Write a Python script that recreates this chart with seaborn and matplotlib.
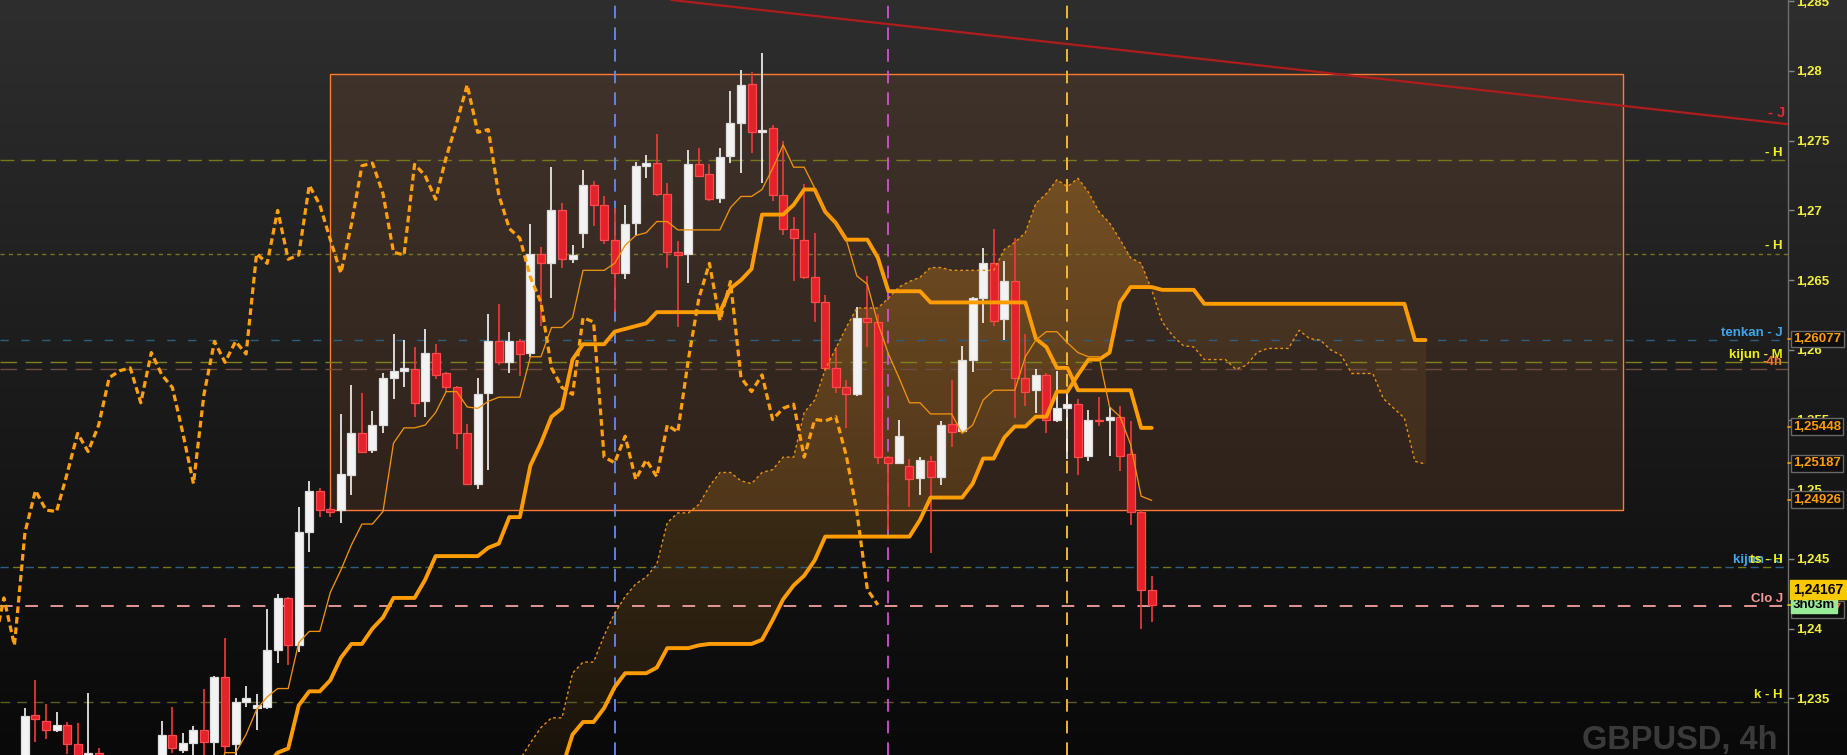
import numpy as np
import pandas as pd
import matplotlib
matplotlib.use("Agg")
import matplotlib.pyplot as plt
from matplotlib.patches import Rectangle, PathPatch
from matplotlib.path import Path
from matplotlib.ticker import FixedLocator, FuncFormatter
import seaborn as sns

nan = np.nan

# GBPUSD 4h candles, bar 0 is the first one on the left of the screen
opens = [1.2300, 1.2338, 1.2334, 1.2327, 1.2331, 1.2317, 1.2298, 1.2311, 1.2295, 1.2280,
         1.2262, 1.2270, 1.2284, 1.2298, 1.2324, 1.2313, 1.2318, 1.2327, 1.2319, 1.2365,
         1.2317, 1.2347, 1.2343, 1.2344, 1.2385, 1.2422, 1.2388, 1.2469, 1.2499, 1.2486,
         1.2485, 1.2510, 1.2540, 1.2528, 1.2546, 1.2580, 1.2585, 1.2586, 1.2563, 1.2598,
         1.2583, 1.2573, 1.2540, 1.2504, 1.2569, 1.2606, 1.2591, 1.2606, 1.2598, 1.2669,
         1.2662, 1.2700, 1.2665, 1.2684, 1.2718, 1.2704, 1.2679, 1.2655, 1.2691, 1.2732,
         1.2734, 1.2712, 1.2670, 1.2669, 1.2733, 1.2726, 1.2709, 1.2739, 1.2763, 1.2791,
         1.2756, 1.2759, 1.2711, 1.2687, 1.2679, 1.2652, 1.2634, 1.2587, 1.2573, 1.2568,
         1.2623, 1.2620, 1.2523, 1.2519, 1.2517, 1.2508, 1.2520, 1.2509, 1.2547, 1.2542,
         1.2593, 1.2637, 1.2662, 1.2622, 1.2649, 1.2580, 1.2571, 1.2582, 1.2550, 1.2558,
         1.2561, 1.2524, 1.2550, 1.2550, 1.2552, 1.2525, 1.2484, 1.2428]
highs = [1.2343, 1.2363, 1.2346, 1.2340, 1.2333, 1.2332, 1.2354, 1.2314, 1.2300, 1.2290,
         1.2280, 1.2288, 1.2300, 1.2334, 1.2344, 1.2325, 1.2330, 1.2357, 1.2366, 1.2393,
         1.2350, 1.2359, 1.2353, 1.2414, 1.2425, 1.2423, 1.2487, 1.2506, 1.2501, 1.2487,
         1.2554, 1.2575, 1.2569, 1.2556, 1.2583, 1.2611, 1.2607, 1.2602, 1.2615, 1.2604,
         1.2584, 1.2574, 1.2547, 1.2580, 1.2626, 1.2633, 1.2613, 1.2608, 1.2690, 1.2674,
         1.2731, 1.2705, 1.2675, 1.2729, 1.2721, 1.2710, 1.2702, 1.2704, 1.2735, 1.2740,
         1.2755, 1.2720, 1.2678, 1.2743, 1.2745, 1.2733, 1.2745, 1.2786, 1.2801, 1.2799,
         1.2813, 1.2761, 1.2750, 1.2695, 1.2719, 1.2684, 1.2639, 1.2602, 1.2578, 1.2631,
         1.2653, 1.2626, 1.2524, 1.2550, 1.2522, 1.2523, 1.2524, 1.2549, 1.2578, 1.2603,
         1.2638, 1.2673, 1.2687, 1.2664, 1.2680, 1.2611, 1.2586, 1.2583, 1.2585, 1.2571,
         1.2565, 1.2557, 1.2566, 1.2559, 1.2560, 1.2549, 1.2485, 1.2438]
lows = [1.2295, 1.2319, 1.2321, 1.2326, 1.2310, 1.2295, 1.2290, 1.2285, 1.2270, 1.2250,
        1.2240, 1.2245, 1.2233, 1.2255, 1.2311, 1.2311, 1.2290, 1.2290, 1.2293, 1.2311,
        1.2290, 1.2344, 1.2327, 1.2342, 1.2375, 1.2374, 1.2383, 1.2455, 1.2480, 1.2480,
        1.2476, 1.2496, 1.2526, 1.2526, 1.2540, 1.2565, 1.2573, 1.2552, 1.2552, 1.2579,
        1.2570, 1.2529, 1.2503, 1.2500, 1.2514, 1.2589, 1.2583, 1.2581, 1.2595, 1.2617,
        1.2637, 1.2659, 1.2662, 1.2673, 1.2689, 1.2676, 1.2627, 1.2651, 1.2682, 1.2723,
        1.2710, 1.2659, 1.2616, 1.2648, 1.2724, 1.2707, 1.2705, 1.2734, 1.2727, 1.2741,
        1.2720, 1.2707, 1.2682, 1.2649, 1.2651, 1.2620, 1.2585, 1.2569, 1.2544, 1.2567,
        1.2602, 1.2518, 1.2471, 1.2518, 1.2487, 1.2496, 1.2454, 1.2503, 1.2530, 1.2541,
        1.2584, 1.2619, 1.2617, 1.2607, 1.2551, 1.2560, 1.2555, 1.2540, 1.2548, 1.2522,
        1.2510, 1.2520, 1.2545, 1.2524, 1.2513, 1.2474, 1.2400, 1.2405]
closes = [1.2337, 1.2335, 1.2327, 1.2331, 1.2317, 1.2300, 1.2311, 1.2295, 1.2280, 1.2262,
          1.2270, 1.2284, 1.2298, 1.2324, 1.2314, 1.2318, 1.2327, 1.2319, 1.2365, 1.2316,
          1.2347, 1.2350, 1.2345, 1.2385, 1.2422, 1.2388, 1.2469, 1.2499, 1.2485, 1.2484,
          1.2511, 1.2540, 1.2527, 1.2546, 1.2580, 1.2585, 1.2587, 1.2562, 1.2598, 1.2582,
          1.2573, 1.2540, 1.2504, 1.2568, 1.2606, 1.2591, 1.2606, 1.2597, 1.2669, 1.2662,
          1.2700, 1.2665, 1.2668, 1.2718, 1.2704, 1.2679, 1.2655, 1.2690, 1.2732, 1.2734,
          1.2712, 1.2670, 1.2668, 1.2733, 1.2725, 1.2708, 1.2738, 1.2763, 1.2790, 1.2756,
          1.2758, 1.2711, 1.2687, 1.2680, 1.2652, 1.2634, 1.2587, 1.2573, 1.2568, 1.2623,
          1.2620, 1.2523, 1.2519, 1.2538, 1.2507, 1.2521, 1.2509, 1.2546, 1.2541, 1.2593,
          1.2637, 1.2662, 1.2621, 1.2649, 1.2580, 1.2570, 1.2582, 1.2550, 1.2558, 1.2561,
          1.2523, 1.2550, 1.2549, 1.2552, 1.2524, 1.2484, 1.2428, 1.2417]

# ichimoku lines, one value per bar (nan = not drawn)
tenkan = [nan] * 18 + [
    1.2290, 1.2311, 1.2311, 1.2324, 1.2342, 1.2351, 1.2357, 1.2357, 1.2390, 1.2398,
    1.2398, 1.2426, 1.2442, 1.2460, 1.2475, 1.2475, 1.2484, 1.2533, 1.2544, 1.2544,
    1.2546, 1.2555, 1.2570, 1.2570, 1.2559, 1.2558, 1.2563, 1.2566, 1.2566, 1.2566,
    1.2595, 1.2595, 1.2616, 1.2616, 1.2623, 1.2657, 1.2657, 1.2657, 1.2662, 1.2675,
    1.2682, 1.2684, 1.2692, 1.2692, 1.2686, 1.2686, 1.2686, 1.2686, 1.2686, 1.2702,
    1.2710, 1.2710, 1.2715, 1.2730, 1.2747, 1.2731, 1.2731, 1.2716, 1.2699, 1.2691,
    1.2679, 1.2653, 1.2647, 1.2619, 1.2597, 1.2580, 1.2562, 1.2562, 1.2554, 1.2554,
    1.2554, 1.2540, 1.2546, 1.2564, 1.2571, 1.2571, 1.2571, 1.2595, 1.2607, 1.2613,
    1.2613, 1.2605, 1.2598, 1.2595, 1.2595, 1.2559, 1.2552, 1.2532, 1.2495, 1.2492]
kijun = [nan] * 23 + [
    1.2302, 1.2311, 1.2314, 1.2345, 1.2355, 1.2355, 1.2363, 1.2379, 1.2389, 1.2389,
    1.2400, 1.2408, 1.2422, 1.2422, 1.2422, 1.2435, 1.2452, 1.2452, 1.2452, 1.2452,
    1.2452, 1.2458, 1.2461, 1.2480, 1.2480, 1.2517, 1.2533, 1.2552, 1.2558, 1.2593,
    1.2604, 1.2604, 1.2604, 1.2613, 1.2615, 1.2617, 1.2619, 1.2627, 1.2627, 1.2627,
    1.2627, 1.2627, 1.2627, 1.2627, 1.2644, 1.2650, 1.2658, 1.2697, 1.2697, 1.2697,
    1.2704, 1.2715, 1.2715, 1.2699, 1.2691, 1.2679, 1.2679, 1.2679, 1.2666, 1.2642,
    1.2642, 1.2642, 1.2642, 1.2634, 1.2634, 1.2634, 1.2634, 1.2634, 1.2634, 1.2634,
    1.2634, 1.2634, 1.2634, 1.2608, 1.2602, 1.2587, 1.2587, 1.2571, 1.2571, 1.2571,
    1.2571, 1.2571, 1.2571, 1.2544, 1.2544]
# the two leading spans run 26 bars past the last candle
span_a = [nan] * 46 + [
    1.2290, 1.2306, 1.2318, 1.2329, 1.2336, 1.2336, 1.2368, 1.2376, 1.2376, 1.2395,
    1.2411, 1.2423, 1.2432, 1.2437, 1.2446, 1.2476, 1.2483, 1.2483, 1.2489, 1.2502,
    1.2512, 1.2512, 1.2506, 1.2504, 1.2512, 1.2514, 1.2523, 1.2523, 1.2555, 1.2564,
    1.2586, 1.2601, 1.2616, 1.2630, 1.2630, 1.2630, 1.2637, 1.2645, 1.2649, 1.2652,
    1.2659, 1.2659, 1.2657, 1.2657, 1.2657, 1.2657, 1.2657, 1.2672, 1.2677, 1.2684,
    1.2705, 1.2712, 1.2722, 1.2717, 1.2723, 1.2713, 1.2699, 1.2691, 1.2679, 1.2666,
    1.2662, 1.2643, 1.2620, 1.2610, 1.2603, 1.2602, 1.2593, 1.2593, 1.2593, 1.2586,
    1.2589, 1.2598, 1.2601, 1.2601, 1.2601, 1.2614, 1.2608, 1.2607, 1.2600, 1.2596,
    1.2583, 1.2583, 1.2583, 1.2565, 1.2558, 1.2551, 1.2520, 1.2518]
span_b = [nan] * 46 + [
    1.2260, 1.2265, 1.2270, 1.2280, 1.2290, 1.2300, 1.2324, 1.2333, 1.2333, 1.2343,
    1.2358, 1.2368, 1.2368, 1.2368, 1.2372, 1.2386, 1.2386, 1.2386, 1.2388, 1.2389,
    1.2389, 1.2389, 1.2389, 1.2389, 1.2392, 1.2406, 1.2421, 1.2431, 1.2438, 1.2449,
    1.2466, 1.2466, 1.2466, 1.2466, 1.2466, 1.2466, 1.2466, 1.2466, 1.2466, 1.2478,
    1.2494, 1.2494, 1.2494, 1.2494, 1.2504, 1.2522, 1.2522, 1.2537, 1.2545, 1.2545,
    1.2552, 1.2552, 1.2570, 1.2570, 1.2582, 1.2593, 1.2593, 1.2598, 1.2634, 1.2645,
    1.2645, 1.2645, 1.2643, 1.2643, 1.2643, 1.2643, 1.2633, 1.2633, 1.2633, 1.2633,
    1.2633, 1.2633, 1.2633, 1.2633, 1.2633, 1.2633, 1.2633, 1.2633, 1.2633, 1.2633,
    1.2633, 1.2633, 1.2633, 1.2633, 1.2633, 1.2633, 1.2607, 1.2607]
chikou_shift = 26

# horizontal levels with their tags
level_prices = [1.2736, 1.2669, 1.2607, 1.2591, 1.2586, 1.2444, 1.2444, 1.2416, 1.2347]
level_names = ["- H", "- H", "tenkan - J", "kijun - M", "-4h", "kijun - J", "ts - H", "Clo J", "k - H"]

# vertical markers (bar index)
vline_bars = [56, 82, 99]

# trend line anchors (bar, price)
trend_bars = [70, 160]
trend_prices = [1.28437, 1.27681]

# drawn rectangle (bars, prices)
box_bars = [29.0, 151.8]
box_prices = [1.2485, 1.2798]

# value tags on the price scale
tag_prices = [1.26077, 1.25448, 1.25187, 1.24926]
last_close = 1.24167
countdown = "3h03m"
price_ticks = [1.235, 1.24, 1.245, 1.25, 1.255, 1.26, 1.265, 1.27, 1.275, 1.28, 1.285]

sns.set_theme(style="dark")
plt.rcParams['font.family'] = ['Liberation Sans', 'DejaVu Sans']
plt.rcParams['font.weight'] = 'bold'

W, H = 1847, 755
fig = plt.figure(figsize=(W / 100, H / 100), dpi=100)
fig.patch.set_facecolor('#1c1c1c')

# vertical grey gradient behind everything
bg = fig.add_axes([0, 0, 1, 1], zorder=-10)
shade = np.linspace(46, 9, 256) / 255
bg.imshow(np.dstack([shade, shade, shade]).reshape(256, 1, 3), aspect='auto',
          extent=(0, 1, 0, 1))
bg.axis('off')

ax = fig.add_axes([0, 0, 1788 / W, 1])
ax.set_facecolor('none')
yax = ax.get_yaxis_transform()

bars = pd.DataFrame({'open': opens, 'high': highs, 'low': lows, 'close': closes})
bars['bar'] = np.arange(len(bars))
bars['tenkan'] = tenkan
bars['kijun'] = kijun
cloud = pd.DataFrame({'bar': np.arange(len(span_a)), 'span_a': span_a, 'span_b': span_b})
chikou = pd.DataFrame({'bar': bars['bar'] - chikou_shift, 'price': bars['close']})
chikou = chikou[chikou['bar'] >= -3]

# rectangle
ax.add_patch(Rectangle((box_bars[0], box_prices[0]), box_bars[1] - box_bars[0],
                       box_prices[1] - box_prices[0], facecolor='#7a4a2e', alpha=0.25,
                       edgecolor='none', zorder=0.5))
ax.add_patch(Rectangle((box_bars[0], box_prices[0]), box_bars[1] - box_bars[0],
                       box_prices[1] - box_prices[0], facecolor='none',
                       edgecolor='#ff7b33', lw=1.0, zorder=0.6))

# level lines
line_cols = ['#77771e', '#7a7420', '#2c5f80', '#80801c', '#6e4c40', '#2c5f80', '#77771e', '#f4a0a0', '#5c5c1c']
line_ls = [(0, (10, 5)), (0, (3, 3)), (0, (6, 9)), (0, (12, 6)), (0, (12, 6)),
           (0, (6, 12)), (9, (6, 12)), (0, (7, 7)), (0, (7, 5))]
text_cols = ['#f2f224', '#f2f224', '#3ea6ea', '#eeee10', '#f07a30', '#3ea6ea', '#eeee10', '#f49a9a', '#eeee10']
for p, name, lc, ls, tc in zip(level_prices, level_names, line_cols, line_ls, text_cols):
    ax.axhline(p, color=lc, lw=1.3 if name == "Clo J" else 1.0, ls=ls, zorder=2)
    ax.annotate(name, xy=(0.9972, p), xycoords=yax, xytext=(0, 1), textcoords='offset points',
                ha='right', va='bottom', fontsize=9.5, color=tc, zorder=7)

# vertical markers
for b, c in zip(vline_bars, ['#5b8ff0', '#d64fd6', '#ffc23a']):
    ax.axvline(b, color=c, lw=1.3, ls=(0, (7, 5)), zorder=2)

# kumo: gradient fill where span A is above span B, flat where below
ok = cloud.dropna()
xa, ya, yb = ok['bar'].values, ok['span_a'].values, ok['span_b'].values
bull = ax.fill_between(xa, ya, yb, where=ya >= yb, interpolate=True, facecolor='none', edgecolor='none')
ax.fill_between(xa, ya, yb, where=ya < yb, interpolate=True, color='#ff9e1a', alpha=0.09, lw=0, zorder=1)
clip = PathPatch(Path.make_compound_path(*bull.get_paths()), transform=ax.transData,
                 facecolor='none', edgecolor='none')
ax.add_patch(clip)
grad = np.zeros((256, 1, 4))
grad[..., 0], grad[..., 1], grad[..., 2] = 1.0, 0.62, 0.1
grad[:, 0, 3] = np.linspace(0.07, 0.36, 256)
im = ax.imshow(grad, extent=(-5, 170, 1.2309, 1.2851), origin='lower', aspect='auto',
               zorder=1, interpolation='bilinear')
im.set_clip_path(clip)

# candles
up = bars['close'] >= bars['open']
body_lo = bars[['open', 'close']].min(axis=1)
body_h = (bars['close'] - bars['open']).abs().clip(lower=0.00004)
for mask, face, edge, wick in [(up, '#f3f3f3', '#dcdcdc', '#f7f7f7'),
                               (~up, '#e3222b', '#ff4a4a', '#f23a3a')]:
    b = bars[mask]
    ax.vlines(b['bar'], b['low'], b['high'], color=wick, lw=1.2, zorder=4)
    ax.bar(b['bar'], body_h[mask], bottom=body_lo[mask], width=0.76, color=face,
           edgecolor=edge, linewidth=0.9, zorder=5)

# ichimoku lines
sns.lineplot(data=cloud, x='bar', y='span_a', ax=ax, color='#e8900f', linewidth=1.0, zorder=6)
ax.lines[-1].set_dashes((2, 2))
sns.lineplot(data=cloud, x='bar', y='span_b', ax=ax, color='#ff9d00', linewidth=2.8, zorder=6)
sns.lineplot(data=bars, x='bar', y='kijun', ax=ax, color='#ff9d00', linewidth=2.8, zorder=6)
sns.lineplot(data=bars, x='bar', y='tenkan', ax=ax, color='#ee920e', linewidth=0.95, zorder=6)
sns.lineplot(data=chikou, x='bar', y='price', ax=ax, color='#ffa00a', linewidth=2.3, zorder=6)
ax.lines[-1].set_dashes((2.1, 1.2))

# trend line
ax.axline((trend_bars[0], trend_prices[0]), (trend_bars[1], trend_prices[1]),
          color='#b01c1c', lw=1.6, zorder=3)
ax.annotate("- J", xy=(0.9985, 1.2764), xycoords=yax, xytext=(0, 1), textcoords='offset points',
            ha='right', va='bottom', fontsize=10.5, color='#e8262b', zorder=7)

# axes, price scale
ax.set_xlim(-2.37, 167.43)
ax.set_ylim(1.230933, 1.285093)
ax.set_xlabel('')
ax.set_ylabel('')
ax.set_xticks([])
ax.yaxis.tick_right()
ax.yaxis.set_major_locator(FixedLocator(price_ticks))
ax.yaxis.set_major_formatter(FuncFormatter(lambda v, pos: f"{v:g}".replace('.', ',')))
ax.tick_params(axis='y', colors='#8a8a8a', labelcolor='#f0f03c', labelsize=9.5,
               length=4, width=1, pad=2)
for side in ['top', 'left', 'bottom']:
    ax.spines[side].set_visible(False)
ax.spines['right'].set_color('#6e6e6e')
ax.spines['right'].set_linewidth(1)
ax.grid(False)

box = dict(boxstyle='square,pad=0.18', fc='#0d0d0d', ec='#686868', lw=1)
for p in tag_prices:
    ax.plot([1.0, 1.0028], [p, p], transform=yax, color='#ff9c00', lw=1.2, clip_on=False, zorder=9)
    ax.text(1.0028, p, f"{p:.5f}".replace('.', ','), transform=yax, ha='left', va='center',
            fontsize=9.5, color='#ff9c00', bbox=box, clip_on=False, zorder=10)

close_txt = f"{last_close:.5f}".replace('.', ',')
ax.plot([1.0, 1.0028], [last_close, last_close], transform=yax, color='#f9c900', lw=1.2,
        clip_on=False, zorder=9)
ax.annotate(close_txt, xy=(1.0028, last_close), xycoords=yax, xytext=(0, -3),
            textcoords='offset points', ha='left', va='center', fontsize=9.5, color='#ff6a3a',
            bbox=box, annotation_clip=False, zorder=10)
ax.annotate(countdown, xy=(1.0028, last_close), xycoords=yax, xytext=(0, 0),
            textcoords='offset points', ha='left', va='center', fontsize=9.5, color='#000000',
            bbox=dict(boxstyle='square,pad=0.15', fc='#98ec98', ec='#98ec98'),
            annotation_clip=False, zorder=11)
ax.annotate(close_txt, xy=(1.0028, last_close), xycoords=yax, xytext=(0, 11.5),
            textcoords='offset points', ha='left', va='center', fontsize=10, color='#000000',
            bbox=dict(boxstyle='square,pad=0.2', fc='#f9c900', ec='#f9c900'),
            annotation_clip=False, zorder=12)

fig.text(1777 / W, 6 / H, "GBPUSD, 4h", ha='right', va='baseline', fontsize=23.5,
         color='#3a3a3a', fontweight='bold')

fig.savefig('out.png', dpi=100, facecolor=fig.get_facecolor())
